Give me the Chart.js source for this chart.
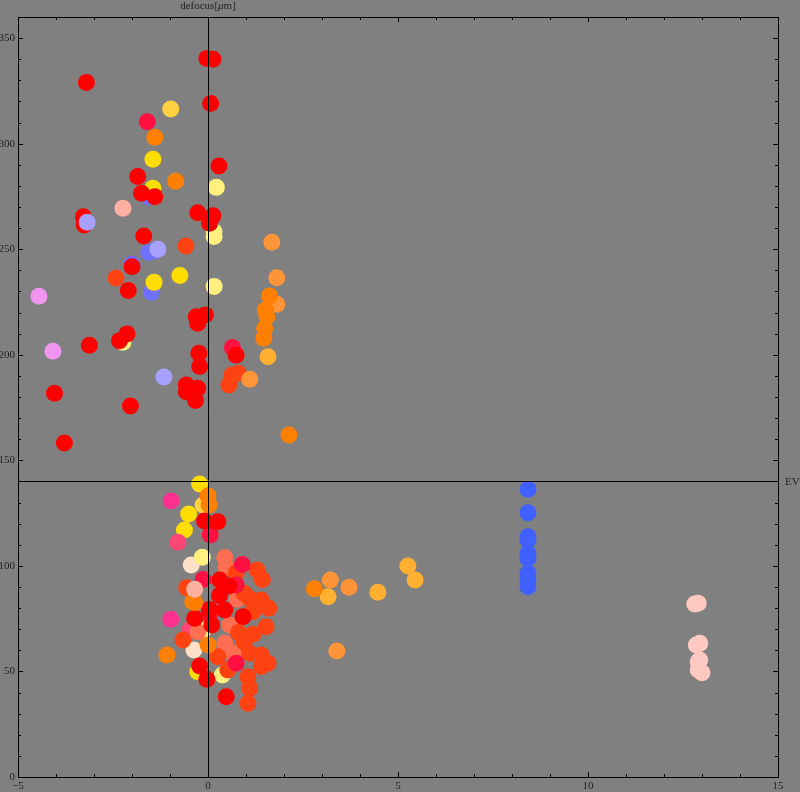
<!DOCTYPE html>
<html>
<head>
<meta charset="utf-8">
<script src="https://cdn.jsdelivr.net/npm/chart.js@4/dist/chart.umd.min.js"></script>
<style>
	html, body { margin: 0; padding: 0; background: #808080; }
	canvas { display: block; }
</style>
</head>
<body>
<canvas id="evChart" width="800" height="792"></canvas>
<script>

//Ejes
var xTicks = [-5, 0, 5, 10, 15];
var yTicks = [0, 50, 100, 150, 200, 250, 300, 350];
var xLabel = 'EV';
var yLabelParts = ['defocus[', '\u03bc', 'm]']; //la mu va en cursiva
var axisCross = 140;

//Puntos agrupados por color [EV, defocus]
var redPts = [[-0.03,340.4],[0.13,340],[-3.2,329],[0.07,319],[0.29,289.4],[-1.85,284.5],[-1.75,276.5],[-1.4,274.9],
	[-3.28,265.4],[-3.26,261.5],[-0.27,267.3],[0.13,265.9],[0.04,262.3],[-1.69,256.3],[-2.0,241.7],[-2.1,230.5],
	[-0.31,218],[-0.07,218.9],[-0.27,214.9],[-2.13,209.9],[-2.33,206.7],[-3.12,204.5],[-0.24,200.7],[-0.22,194.4],
	[0.74,199.8],[-4.04,181.8],[-0.57,185.7],[-0.27,184.1],[-0.57,182.5],[-0.33,178.3],[-2.04,175.7],[-3.78,158.2],
	[-0.09,121.3],[0.26,120.9],[0.31,93.3],[0.3,86],[0.55,90.5],[0.04,79.4],[0.44,79.1],[-0.35,75.2],[0.1,72],
	[0.92,75.9],[-0.22,52.6],[-0.03,46.3],[0.48,38]];
var crimsonPts = [[-1.6,310.4],[0.64,203.5],[0.06,114.6],[0.9,100.7],[0.74,91],[-0.13,93.6],[0.04,76.7],[0.74,53.9]];
var redOrangePts = [[-0.58,251.5],[-2.42,236.4],[0.63,190.4],[0.8,191.2],[0.55,185.7],[1.29,98],[1.43,93.6],
	[-0.56,89.7],[0.95,87],[1.4,83.8],[1.6,79.9],[1.18,78.3],[1.18,67.6],[1.53,71.2],[0.26,57],[1.1,58.6],[1.4,57.8],
	[1.58,53.9],[1.4,52.3],[0.52,50.7],[1.05,47.5],[1.1,42],[1.05,34.9],[-0.66,64.9],[1.1,84.6],[0.74,96.8],
	[0.95,64],[0.8,68.5]];
var coralPts = [[0.44,104],[0.48,99.3],[0.77,84.2],[0.57,72],[0.44,63.3],[0.66,58.6],[-0.27,68.8]];
var orangePts = [[-1.4,303],[-0.85,282.2],[0,133.1],[-0.35,82.6],[-1.08,57.8],[0,62.5],[-0.4,83],[2.8,89.2],
	[2.13,162],[1.51,221.2],[1.55,218],[1.49,212.5],[1.47,207.8],[1.62,227.9],[0.03,128.8]];
var lightOrangePts = [[1.68,253.3],[1.81,236.5],[1.81,223.9],[3.22,93.3],[3.71,89.9],[3.39,59.7],[1.1,188.4]];
var amberPts = [[1.58,199.1],[4.47,87.5],[5.26,100],[5.45,93.3],[3.16,85.4]];
var goldPts = [[-1.45,292.6],[-1.45,278.9],[-1.42,234.3],[-0.74,237.6],[-0.22,138.8],[-0.51,124.6],[-0.62,117],[-0.27,49.9]];
var lightGoldPts = [[-0.98,316.4],[-0.13,128.8]];
var paleYellowPts = [[0.22,279.3],[0.16,258.3],[0.16,256],[0.16,232.4],[-2.24,205.9],[-0.15,104.1],[-0.13,69.6],[0.38,48.3]];
var peachPts = [[-0.44,100.4],[-0.37,60.2]];
var salmonPts = [[-2.24,269.4],[-0.35,88.9]];
var magentaPts = [[-0.97,130.7],[-0.98,74.7]];
var pinkPts = [[-0.79,111.2],[-0.48,69.6]];
var violetPts = [[-4.45,227.7],[-4.08,201.7]];
var bluePts = [[8.42,136.3],[8.42,125.2],[8.42,113.8],[8.42,112.3],[8.42,106],[8.42,103.6],[8.42,96.5],[8.42,93.3],[8.42,90.1]];
var periwinklePts = [[-1.56,274.9],[-2.0,242.9],[-1.48,229.6],[-1.4,249.3],[-1.56,248.4]];
var lavenderPts = [[-1.32,250],[-1.16,189.5],[-3.18,262.8]];
var blushPts = [[12.9,82.3],[12.81,82],[12.94,63.3],[12.85,62.5],[12.94,55.4],[12.9,54.6],[12.9,50.7],[13.0,49.4]];

function serie(pts, color) {
	return {
		data: pts.map(function(p) { return {x: p[0], y: p[1]}; }),
		backgroundColor: color,
		borderWidth: 0,
		pointRadius: 8.5,
		pointHoverRadius: 8.5
	};
}

//Marco, marcas, etiquetas y ejes cruzados al estilo Mathematica
var marcoPlugin = {
	id: 'marco',
	beforeDraw: function(chart) {
		var ctx = chart.ctx;
		ctx.save();
		ctx.fillStyle = '#808080';
		ctx.fillRect(0, 0, chart.width, chart.height);
		ctx.restore();
	},
	afterDatasetsDraw: function(chart) {
		var ctx = chart.ctx;
		var a = chart.chartArea;
		var sx = chart.scales.x;
		var sy = chart.scales.y;
		var i, px, py, len;
		var fnt = '"Liberation Serif", "DejaVu Serif", serif';

		ctx.save();
		ctx.strokeStyle = '#000';
		ctx.lineWidth = 1;

		//ejes cruzados
		px = Math.round(sx.getPixelForValue(0)) + 0.5;
		py = Math.round(sy.getPixelForValue(axisCross)) + 0.5;
		ctx.beginPath();
		ctx.moveTo(px, a.top);
		ctx.lineTo(px, a.bottom);
		ctx.moveTo(a.left, py);
		ctx.lineTo(a.right, py);
		ctx.stroke();

		//marco
		ctx.strokeRect(Math.round(a.left) + 0.5, Math.round(a.top) + 0.5,
			Math.round(a.right - a.left), Math.round(a.bottom - a.top));

		//marcas x
		ctx.beginPath();
		for (i = -5; i <= 15; i++) {
			px = Math.round(sx.getPixelForValue(i)) + 0.5;
			len = (i % 5 === 0) ? 5 : 3;
			ctx.moveTo(px, a.bottom);
			ctx.lineTo(px, a.bottom - len);
			ctx.moveTo(px, a.top);
			ctx.lineTo(px, a.top + len);
		}
		//marcas y
		for (i = 0; i <= 360; i += 10) {
			py = Math.round(sy.getPixelForValue(i)) + 0.5;
			len = (i % 50 === 0) ? 5 : 3;
			ctx.moveTo(a.left, py);
			ctx.lineTo(a.left + len, py);
			ctx.moveTo(a.right, py);
			ctx.lineTo(a.right - len, py);
		}
		ctx.stroke();

		//etiquetas
		ctx.fillStyle = '#222';
		ctx.font = '11px ' + fnt;
		ctx.textAlign = 'center';
		ctx.textBaseline = 'top';
		xTicks.forEach(function(v) {
			var t = v < 0 ? '\u2212' + Math.abs(v) : String(v);
			ctx.fillText(t, sx.getPixelForValue(v), a.bottom + 4);
		});
		ctx.textAlign = 'right';
		ctx.textBaseline = 'middle';
		yTicks.forEach(function(v) {
			ctx.fillText(String(v), a.left - 3, sy.getPixelForValue(v));
		});

		//titulo del eje vertical, con la mu en cursiva
		var fonts = ['11px ' + fnt, 'italic 11px ' + fnt, '11px ' + fnt];
		var w = 0;
		yLabelParts.forEach(function(s, k) {
			ctx.font = fonts[k];
			w += ctx.measureText(s).width;
		});
		var tx = sx.getPixelForValue(0) - w / 2;
		ctx.textAlign = 'left';
		yLabelParts.forEach(function(s, k) {
			ctx.font = fonts[k];
			ctx.fillText(s, tx, 6);
			tx += ctx.measureText(s).width;
		});

		ctx.font = '11px ' + fnt;
		ctx.fillText(xLabel, a.right + 7, sy.getPixelForValue(axisCross) + 0.5);
		ctx.restore();
	}
};

var ctx = document.getElementById('evChart').getContext('2d');
var chart = new Chart(ctx, {
	type: 'scatter',
	data: {
		datasets: [
			serie(violetPts, '#f096f0'),
			serie(lavenderPts, '#a8a0ff'),
			serie(salmonPts, '#ffb0a0'),
			serie(orangePts, '#ff8000'),
			serie(lightOrangePts, '#ff9438'),
			serie(amberPts, '#ffb030'),
			serie(redPts, '#ff0000'),
			serie(crimsonPts, '#ff1040'),
			serie(redOrangePts, '#ff4212'),
			serie(coralPts, '#ff6e52'),
			serie(magentaPts, '#ff3090'),
			serie(pinkPts, '#ff4878'),
			serie(goldPts, '#ffdd00'),
			serie(lightGoldPts, '#ffd040'),
			serie(paleYellowPts, '#fff080'),
			serie(peachPts, '#ffe0c8'),
			serie(periwinklePts, '#7070ff'),
			serie(bluePts, '#4060ff'),
			serie(blushPts, '#ffc8c0')
		]
	},
	options: {
		responsive: false,
		animation: false,
		devicePixelRatio: 1,
		layout: { padding: { left: 18, top: 17, right: 22, bottom: 15 } },
		plugins: { legend: { display: false }, tooltip: { enabled: false } },
		scales: {
			x: { type: 'linear', min: -5, max: 15, display: false },
			y: { type: 'linear', min: 0, max: 360, display: false }
		}
	},
	plugins: [marcoPlugin]
});
</script>
</body>
</html>
